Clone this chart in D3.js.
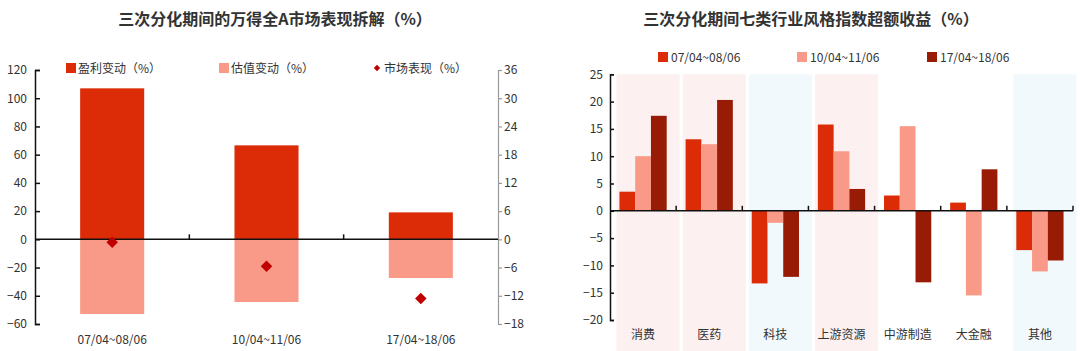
<!DOCTYPE html>
<html>
<head>
<meta charset="utf-8">
<script src="https://cdn.jsdelivr.net/npm/d3@7"></script>
<style>
  body { margin: 0; background: #fff; }
  svg text { font-family: "Noto Sans CJK SC", "Noto Sans", sans-serif; fill: #333; }
</style>
</head>
<body>
<div id="wrapper"></div>
<script>
// left chart data
const periods = ['07/04~08/06', '10/04~11/06', '17/04~18/06']
const earnings = [107, 66.6, 19.1]
const valuation = [-52.9, -44.4, -27.4]
const market = [-0.6, -5.7, -12.6]
const leftTicks = [-60, -40, -20, 0, 20, 40, 60, 80, 100, 120]
const rightTicks = [-18, -12, -6, 0, 6, 12, 18, 24, 30, 36]

// right chart data
const sectors = ['消费', '医药', '科技', '上游资源', '中游制造', '大金融', '其他']
const series1 = [3.5, 13.1, -13.3, 15.8, 2.8, 1.5, -7.2]
const series2 = [10.0, 12.2, -2.2, 10.9, 15.5, -15.5, -11.1]
const series3 = [17.4, 20.3, -12.1, 4.0, -13.1, 7.6, -9.1]
const sectorShade = ['pink', 'pink', 'blue', 'pink', 'none', 'none', 'blue']
const sectorTicks = [-20, -15, -10, -5, 0, 5, 10, 15, 20, 25]

const colors = {
    earn: '#dc2b07',
    val: '#f99987',
    dot: '#c00000',
    s3: '#981b06',
}

const svg = d3.select('#wrapper').append('svg')
    .attr('width', 1080)
    .attr('height', 351)

// ---------- left chart ----------
const L = { left: 35, right: 498, top: 70, bottom: 324 }

svg.append('text')
    .attr('x', 275).attr('y', 25)
    .attr('text-anchor', 'middle')
    .style('font-size', '16px')
    .style('font-weight', 'bold')
    .text('三次分化期间的万得全A市场表现拆解（%）')

const xL = d3.scaleBand().domain(periods).range([L.left, L.right])
const yL = d3.scaleLinear().domain([-60, 120]).range([L.bottom, L.top])
const yR = d3.scaleLinear().domain([-18, 36]).range([L.bottom, L.top])
const barW = xL.bandwidth() * 0.415

const left = svg.append('g')

left.selectAll('.earn').data(periods).join('rect')
    .attr('x', d => xL(d) + xL.bandwidth() / 2 - barW / 2)
    .attr('width', barW)
    .attr('y', (d, i) => yL(earnings[i]))
    .attr('height', (d, i) => yL(0) - yL(earnings[i]))
    .attr('fill', colors.earn)

left.selectAll('.val').data(periods).join('rect')
    .attr('x', d => xL(d) + xL.bandwidth() / 2 - barW / 2)
    .attr('width', barW)
    .attr('y', yL(0))
    .attr('height', (d, i) => yL(valuation[i]) - yL(0))
    .attr('fill', colors.val)

// left axis, ticks pointing inward
const axL = left.append('g')
    .attr('transform', `translate(${L.left},0)`)
    .call(d3.axisRight(yL).tickValues(leftTicks).tickSize(5).tickFormat(d3.format('d')))
axL.select('.domain').attr('stroke', '#111').attr('stroke-width', 1.5)
axL.selectAll('.tick line').attr('stroke', '#111').attr('stroke-width', 1.5)
axL.selectAll('.tick text').attr('x', -8).attr('text-anchor', 'end')
    .style('font-size', '12px').style('fill', '#333')

// right axis in grey
const axR = left.append('g')
    .attr('transform', `translate(${L.right},0)`)
    .call(d3.axisRight(yR).tickValues(rightTicks).tickSize(4).tickFormat(d3.format('d')))
axR.select('.domain').attr('stroke', '#999').attr('stroke-width', 1.2)
axR.selectAll('.tick line').attr('stroke', '#999').attr('stroke-width', 1.2)
axR.selectAll('.tick text').attr('x', 6)
    .style('font-size', '12px').style('fill', '#333')

// zero line with category ticks
left.append('line')
    .attr('x1', L.left).attr('x2', L.right)
    .attr('y1', yL(0)).attr('y2', yL(0))
    .attr('stroke', '#111').attr('stroke-width', 1.5)
left.selectAll('.ctick').data(periods.slice(1)).join('line')
    .attr('x1', d => xL(d)).attr('x2', d => xL(d))
    .attr('y1', yL(0)).attr('y2', yL(0) - 5)
    .attr('stroke', '#111').attr('stroke-width', 1.5)

left.selectAll('.xlab').data(periods).join('text')
    .attr('x', d => xL(d) + xL.bandwidth() / 2)
    .attr('y', 344)
    .attr('text-anchor', 'middle')
    .style('font-size', '12px')
    .text(d => d)

// market diamonds on the right axis (rotated squares)
left.selectAll('.dot').data(periods).join('path')
    .attr('d', d3.symbol(d3.symbolSquare, 66))
    .attr('transform', (d, i) => `translate(${xL(d) + xL.bandwidth() / 2},${yR(market[i])}) rotate(45)`)
    .attr('fill', colors.dot)

// left legend
const legL = [
    { label: '盈利变动（%）', x: 66, type: 'rect', color: colors.earn },
    { label: '估值变动（%）', x: 219, type: 'rect', color: colors.val },
    { label: '市场表现（%）', x: 372, type: 'dot', color: colors.dot },
]
legL.forEach(it => {
    if (it.type === 'rect') {
        svg.append('rect').attr('x', it.x).attr('y', 63).attr('width', 10).attr('height', 10).attr('fill', it.color)
        svg.append('text').attr('x', it.x + 12).attr('y', 72.5).style('font-size', '12px').text(it.label)
    } else {
        svg.append('path').attr('d', d3.symbol(d3.symbolSquare, 20))
            .attr('transform', `translate(${it.x + 5},68) rotate(45)`).attr('fill', it.color)
        svg.append('text').attr('x', it.x + 12).attr('y', 72.5).style('font-size', '12px').text(it.label)
    }
})

// ---------- right chart ----------
const R = { left: 610, right: 1073, top: 74.3, bottom: 320 }

svg.append('text')
    .attr('x', 811).attr('y', 25)
    .attr('text-anchor', 'middle')
    .style('font-size', '16px')
    .style('font-weight', 'bold')
    .text('三次分化期间七类行业风格指数超额收益（%）')

const x2 = d3.scaleBand().domain(sectors).range([R.left, R.right])
const y2 = d3.scaleLinear().domain([-20, 25]).range([R.bottom, R.top])
const periodScale = d3.scaleBand().domain(periods)
    .range([0, x2.bandwidth()]).paddingOuter(0.6)

const right = svg.append('g')

// shaded background bands
const shadeColor = { pink: '#fdf0f0', blue: '#f1f9fd' }
right.selectAll('.shade').data(sectors.filter((d, i) => sectorShade[i] !== 'none')).join('rect')
    .attr('x', d => x2(d) + 6.5)
    .attr('width', x2.bandwidth() - 3)
    .attr('y', R.top)
    .attr('height', 351 - R.top)
    .attr('fill', d => shadeColor[sectorShade[sectors.indexOf(d)]])

const seriesList = [
    { name: periods[0], values: series1, color: colors.earn },
    { name: periods[1], values: series2, color: colors.val },
    { name: periods[2], values: series3, color: colors.s3 },
]

seriesList.forEach(s => {
    right.selectAll(null).data(sectors).join('rect')
        .attr('x', d => x2(d) + periodScale(s.name))
        .attr('width', periodScale.bandwidth())
        .attr('y', (d, i) => y2(Math.max(0, s.values[i])))
        .attr('height', (d, i) => Math.abs(y2(s.values[i]) - y2(0)))
        .attr('fill', s.color)
})

const ax2 = right.append('g')
    .attr('transform', `translate(${R.left},0)`)
    .call(d3.axisRight(y2).tickValues(sectorTicks).tickSize(4))
ax2.select('.domain').attr('stroke', '#111').attr('stroke-width', 1.5)
ax2.selectAll('.tick line').attr('stroke', '#111').attr('stroke-width', 1.5)
ax2.selectAll('.tick text').attr('x', -7).attr('text-anchor', 'end')
    .style('font-size', '12px').style('fill', '#333')

right.append('line')
    .attr('x1', R.left).attr('x2', R.right)
    .attr('y1', y2(0)).attr('y2', y2(0))
    .attr('stroke', '#111').attr('stroke-width', 1.5)
right.selectAll('.ctick').data(sectors.slice(1).concat(['end'])).join('line')
    .attr('x1', d => d === 'end' ? R.right : x2(d))
    .attr('x2', d => d === 'end' ? R.right : x2(d))
    .attr('y1', y2(0)).attr('y2', y2(0) - 5)
    .attr('stroke', '#111').attr('stroke-width', 1.5)

right.selectAll('.xlab').data(sectors).join('text')
    .attr('x', d => x2(d) + x2.bandwidth() / 2)
    .attr('y', 339)
    .attr('text-anchor', 'middle')
    .style('font-size', '12px')
    .text(d => d)

// right legend
const legX = [658, 797, 927]
seriesList.forEach((s, i) => {
    svg.append('rect').attr('x', legX[i]).attr('y', 52).attr('width', 10).attr('height', 10).attr('fill', s.color)
    svg.append('text').attr('x', legX[i] + 13).attr('y', 61.5).style('font-size', '12px').text(s.name)
})
</script>
</body>
</html>
